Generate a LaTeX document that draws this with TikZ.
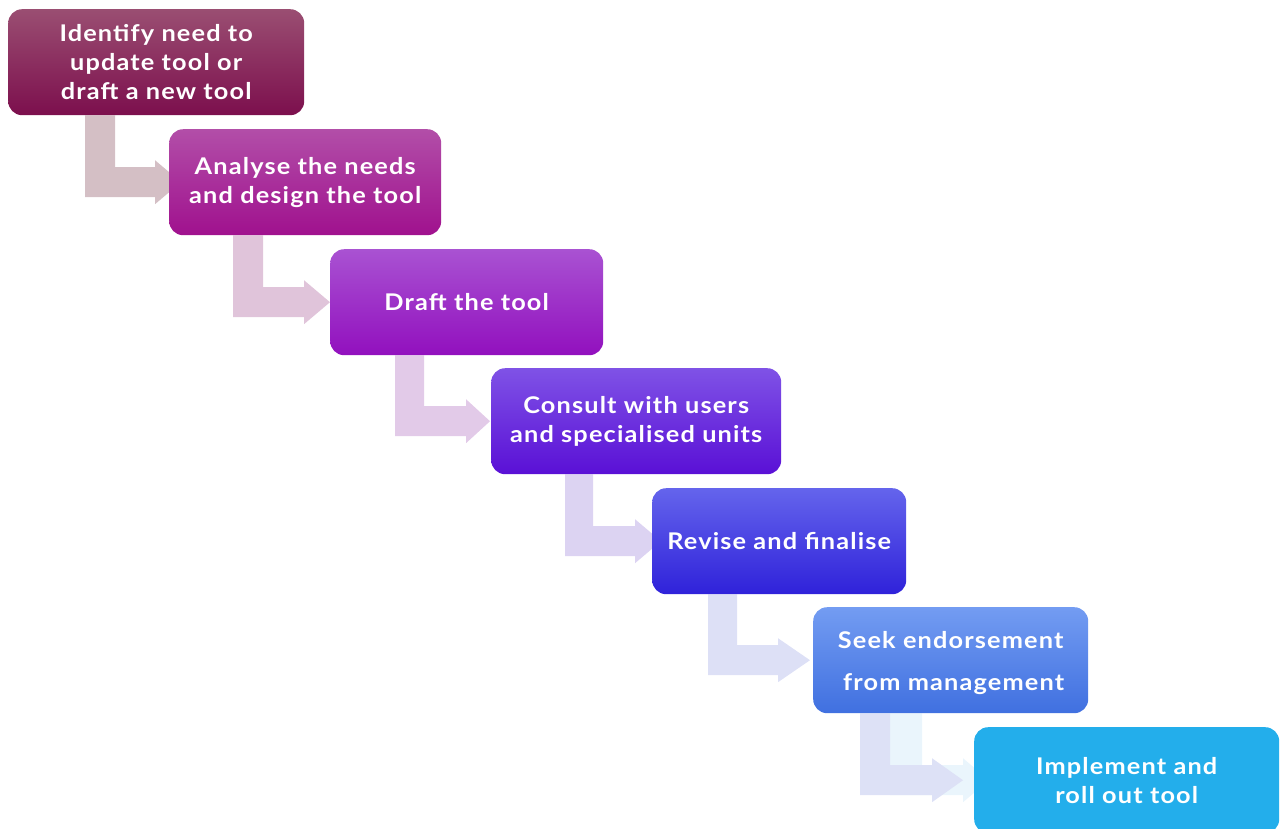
\documentclass[tikz,border=0pt]{standalone}
\usepackage{fontspec}
\setmainfont[FakeStretch=1.1,LetterSpace=5]{Lato}
\usetikzlibrary{calc}
\pgfdeclarelayer{bg}
\pgfsetlayers{bg,main}
\definecolor{c1t}{HTML}{9A4E72}\definecolor{c1m}{HTML}{861856}\definecolor{c1b}{HTML}{7C0F4D}
\definecolor{c2t}{HTML}{B24EA8}\definecolor{c2m}{HTML}{A71898}\definecolor{c2b}{HTML}{A0118E}
\definecolor{c3t}{HTML}{A952D2}\definecolor{c3m}{HTML}{9C1ACC}\definecolor{c3b}{HTML}{9210BE}
\definecolor{c4t}{HTML}{7F52E6}\definecolor{c4m}{HTML}{6A20E4}\definecolor{c4b}{HTML}{5A10D6}
\definecolor{c5t}{HTML}{6464EC}\definecolor{c5m}{HTML}{4438E8}\definecolor{c5b}{HTML}{2F22DA}
\definecolor{c6t}{HTML}{739CF2}\definecolor{c6m}{HTML}{5088F5}\definecolor{c6b}{HTML}{4070E0}
\definecolor{c7}{HTML}{23AEEB}
\definecolor{a1}{HTML}{D4BFC5}
\definecolor{a2}{HTML}{E0C4DA}
\definecolor{a3}{HTML}{E2CAE8}
\definecolor{a4}{HTML}{DCD3F2}
\definecolor{a5}{HTML}{DDE0F6}
\definecolor{a6}{HTML}{DDE1F6}
\definecolor{a7}{HTML}{EAF5FC}
\tikzset{
  steptext/.style={align=center, text=white, inner sep=0pt,
    font=\fontsize{23}{29}\selectfont\bfseries},
  stepbox/.style={steptext, rounded corners=14pt, minimum height=106pt, anchor=north west},
  grad/.style n args={3}{top color=#1, middle color=#2, bottom color=#3}
}
% #1 from, #2 to, #3 bar x offset, #4 head base offset, #5 tip offset, #6 colour, #7 bar width
\newcommand\elbow[7]{%
  \fill[#6] ($(#1.south west)+(#3,0)$) -- ++(#7,0) |- ($(#2.west)+(#4,-15)$) -- ++(0,-7)
    -- ($(#2.west)+(#5,0)$) -- ($(#2.west)+(#4,22)$) -- ++(0,-7)
    -| ($(#1.south west)+(#3,0)$) -- cycle;}
\begin{document}
\begin{tikzpicture}[x=1pt,y=-1pt]
\useasboundingbox (0,0) rectangle (1285,828);
\clip (0,0) rectangle (1285,828);
\node[stepbox, grad={c1t}{c1m}{c1b}, minimum width=296pt] (b1) at (8,9) {Identify need to\\update tool or\\draft a new tool};
\node[stepbox, grad={c2t}{c2m}{c2b}, minimum width=272pt] (b2) at (169,129) {Analyse the needs\\and design the tool};
\node[stepbox, grad={c3t}{c3m}{c3b}, minimum width=273pt] (b3) at (330,249) {Draft the tool};
\node[stepbox, grad={c4t}{c4m}{c4b}, minimum width=290pt] (b4) at (491,368) {Consult with users\\and specialised units};
\node[stepbox, grad={c5t}{c5m}{c5b}, minimum width=254pt] (b5) at (652,488) {Revise and finalise};
\node[stepbox, grad={c6t}{c6m}{c6b}, minimum width=275pt,
  label={[steptext, yshift=-3pt]center:Seek endorsement\\[13pt]\hspace*{6pt}from management}] (b6) at (813,607) {};
\node[stepbox, fill=c7, minimum width=305pt] (b7) at (974,727) {Implement and\\roll out tool};
\begin{pgfonlayer}{bg}
\elbow{b1}{b2}{77}{-14}{12}{a1}{30}
\elbow{b2}{b3}{64}{-26}{0}{a2}{30}
\elbow{b3}{b4}{65}{-25}{-1}{a3}{29}
\elbow{b4}{b5}{74}{-17}{9}{a4}{28}
\elbow{b5}{b6}{56}{-35}{-3}{a5}{29}
\elbow{b6}{b7}{77}{-11}{15}{a7}{32}
\elbow{b6}{b7}{47}{-42}{-11}{a6}{30}
\end{pgfonlayer}
\end{tikzpicture}
\end{document}
